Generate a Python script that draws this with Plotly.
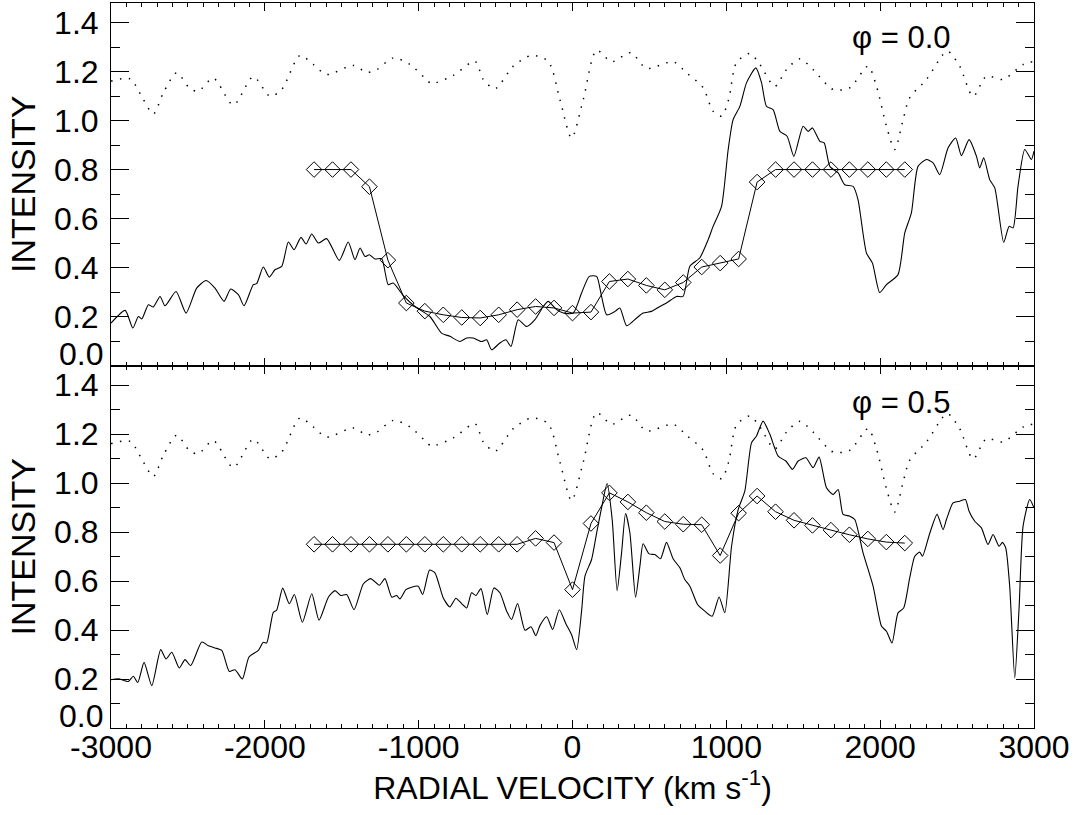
import plotly.graph_objects as go

# ---------------- data ----------------
# dotted template (same in both panels)
dot_v = [-3000, -2876, -2790, -2725, -2660, -2573, -2486, -2432, -2335, -2205, -2075, -1966,
         -1890, -1771, -1685, -1598, -1425, -1338, -1273, -1165, -1057, -927, -915, -775,
         -634, -580, -504, -385, -266, -158, -82, -6, 70, 157, 254, 379, 481, 654, 741,
         849, 914, 969, 1015, 1066, 1153, 1218, 1315, 1391, 1478, 1564, 1694, 1803, 1921,
         1976, 2041, 2095, 2149, 2192, 2301, 2409, 2441, 2517, 2604, 2691, 2799, 2929, 3000]
dot_i = [1.161, 1.170, 1.086, 1.027, 1.113, 1.195, 1.130, 1.120, 1.173, 1.064, 1.179, 1.099,
         1.127, 1.266, 1.229, 1.188, 1.225, 1.197, 1.208, 1.256, 1.229, 1.154, 1.150, 1.184,
         1.242, 1.168, 1.130, 1.222, 1.266, 1.242, 1.086, 0.929, 1.086, 1.287, 1.240, 1.277, 1.213, 1.240, 1.195,
         1.134, 1.038, 1.018, 1.086, 1.236, 1.274, 1.229, 1.140, 1.208, 1.252, 1.208, 1.127, 1.134, 1.222,
         1.140, 0.977, 0.882, 1.004, 1.093, 1.168, 1.270, 1.283, 1.222, 1.099, 1.181, 1.168, 1.229, 1.242]

# observed spectrum, phase 0.0
obs0_v = [-3000, -2908, -2858, -2822, -2800, -2757, -2725, -2681, -2649, -2577, -2512, -2443,
          -2382, -2324, -2265, -2222, -2172, -2135, -2075, -2053, -2010, -1971, -1934, -1890,
          -1847, -1810, -1765, -1732, -1695, -1652, -1598, -1516, -1458, -1414, -1381, -1349,
          -1321, -1284, -1240, -1198, -1165, -1100, -1024, -927, -851, -797, -732, -688, -645,
          -591, -558, -526, -472, -433, -400, -353, -298, -244, -190, -158, -103, -60, 5, 59,
          109, 157, 189, 222, 276, 308, 352, 417, 459, 514, 568, 611, 676, 719, 763, 828, 882,
          914, 969, 1012, 1044, 1088, 1131, 1192, 1229, 1261, 1304, 1348, 1395, 1439, 1499,
          1532, 1560, 1608, 1636, 1673, 1727, 1770, 1824, 1856, 1911, 1950, 1997, 2041, 2116,
          2160, 2203, 2246, 2301, 2344, 2387, 2441, 2491, 2528, 2578, 2626, 2647, 2673, 2712,
          2745, 2803, 2838, 2864, 2896, 2940, 2983, 3000]
obs0_i = [0.173, 0.225, 0.153, 0.200, 0.190, 0.248, 0.239, 0.282, 0.244, 0.302, 0.214, 0.316,
          0.347, 0.316, 0.262, 0.312, 0.289, 0.244, 0.330, 0.334, 0.402, 0.361, 0.391, 0.405,
          0.504, 0.473, 0.523, 0.496, 0.537, 0.500, 0.518, 0.429, 0.504, 0.432, 0.480, 0.445,
          0.452, 0.435, 0.436, 0.330, 0.337, 0.285, 0.241, 0.200, 0.132, 0.119, 0.098, 0.112, 0.112,
          0.098, 0.105, 0.064, 0.092, 0.105, 0.078, 0.187, 0.159, 0.187, 0.241, 0.262, 0.228, 0.214, 0.214, 0.296,
          0.364, 0.364, 0.282, 0.207, 0.221, 0.235, 0.162, 0.194, 0.214, 0.221, 0.241, 0.255, 0.282, 0.282, 0.405, 0.440, 0.514,
          0.568, 0.650, 0.882, 1.004, 1.058, 1.154, 1.215, 1.154, 1.058, 1.045, 0.956, 0.936, 0.854, 0.977,
          0.956, 0.970, 0.915, 0.909, 0.813, 0.786, 0.738, 0.731, 0.677, 0.459, 0.418, 0.298, 0.330, 0.371,
          0.541, 0.623, 0.813, 0.841, 0.827, 0.779, 0.888, 0.929, 0.857, 0.922, 0.854, 0.807, 0.848, 0.759,
          0.725, 0.503, 0.568, 0.562, 0.731, 0.882, 0.841, 0.875]

# observed spectrum, phase 0.5
obs5_v = [-3000, -2952, -2887, -2855, -2826, -2785, -2735, -2677, -2642, -2605, -2556, -2519,
          -2482, -2410, -2367, -2324, -2280, -2231, -2194, -2146, -2103, -2042, -2010, -1988,
          -1945, -1923, -1884, -1841, -1808, -1756, -1695, -1648, -1587, -1544, -1507, -1468,
          -1420, -1360, -1312, -1256, -1219, -1175, -1143, -1122, -1083, -1046, -1003, -974,
          -929, -894, -840, -797, -758, -721, -688, -656, -628, -595, -554, -511, -472, -428,
          -396, -357, -309, -270, -238, -212, -168, -129, -86, -43, -6, 27, 59, 81, 124, 157,
          189, 225, 258, 290, 319, 345, 373, 410, 438, 459, 498, 535, 572, 611, 654, 698, 730,
          763, 813, 860, 908, 953, 990, 1034, 1077, 1120, 1164, 1196, 1239, 1283, 1337, 1387,
          1430, 1467, 1517, 1564, 1603, 1651, 1694, 1727, 1759, 1803, 1835, 1889, 1954, 2009,
          2041, 2077, 2116, 2153, 2192, 2225, 2257, 2275, 2322, 2370, 2409, 2431, 2474, 2517,
          2554, 2578, 2615, 2658, 2701, 2734, 2773, 2795, 2816, 2842, 2875, 2903, 2929, 2972, 3000]
obs5_i = [0.197, 0.201, 0.190, 0.211, 0.186, 0.268, 0.173, 0.320, 0.282, 0.309, 0.245, 0.279,
          0.255, 0.351, 0.336, 0.327, 0.317, 0.231, 0.238, 0.200, 0.290, 0.317, 0.350, 0.347,
          0.472, 0.481, 0.571, 0.507, 0.545, 0.432, 0.548, 0.440, 0.534, 0.561, 0.541, 0.545,
          0.483, 0.588, 0.610, 0.583, 0.610, 0.534, 0.541, 0.527, 0.565, 0.575, 0.579, 0.545,
          0.645, 0.633, 0.531, 0.494, 0.530, 0.508, 0.490, 0.552, 0.541, 0.569, 0.463, 0.572, 0.552, 0.477,
          0.443, 0.508, 0.399, 0.413, 0.377, 0.418, 0.454, 0.402, 0.483, 0.426, 0.381, 0.320, 0.477, 0.620, 0.688, 0.797,
          0.899, 0.998, 0.851, 0.561, 0.715, 0.876, 0.797, 0.534, 0.660, 0.752, 0.711, 0.708, 0.691, 0.758, 0.691, 0.654, 0.606,
          0.579, 0.504, 0.477, 0.456, 0.535, 0.471, 0.742, 0.892, 0.967, 1.165, 1.192, 1.253, 1.199, 1.110, 1.090,
          1.056, 1.090, 1.103, 1.063, 1.106, 0.981, 0.953, 0.974, 0.872, 0.865, 0.851, 0.715, 0.579, 0.415,
          0.395, 0.347, 0.470, 0.490, 0.613, 0.701, 0.718, 0.701, 0.794, 0.872, 0.810, 0.851, 0.919, 0.926,
          0.933, 0.885, 0.844, 0.817, 0.749, 0.790, 0.742, 0.758, 0.736, 0.579, 0.204, 0.490, 0.824, 0.933, 0.899]

# model (diamonds)
mod_v = [-1680, -1560, -1440, -1320, -1200, -1080, -960, -840, -720, -600, -480, -360, -240,
         -120, 0, 120, 240, 360, 480, 600, 720, 840, 960, 1080, 1200, 1320, 1440, 1560, 1680,
         1800, 1920, 2040, 2160]
mod0_i = [0.80, 0.80, 0.80, 0.73, 0.43, 0.255, 0.222, 0.207, 0.196, 0.194, 0.207, 0.228, 0.241,
          0.235, 0.214, 0.218, 0.343, 0.353, 0.327, 0.309, 0.339, 0.402, 0.418, 0.435, 0.749,
          0.80, 0.80, 0.80, 0.80, 0.80, 0.80, 0.80, 0.80]
mod5_i = [0.75, 0.75, 0.75, 0.75, 0.75, 0.75, 0.75, 0.75, 0.75, 0.75, 0.75, 0.75, 0.774,
          0.757, 0.565, 0.835, 0.960, 0.923, 0.879, 0.843, 0.832, 0.830, 0.704, 0.877, 0.947,
          0.883, 0.848, 0.827, 0.808, 0.789, 0.772, 0.759, 0.755]

x_ticks = [-3000, -2000, -1000, 0, 1000, 2000, 3000]
x_ticktext = ["-3000", "-2000", "-1000", "0", "1000", "2000", "3000"]
y_ticks = [0.2, 0.4, 0.6, 0.8, 1.0, 1.2, 1.4]
phase_labels = ["\u03c6 = 0.0", "\u03c6 = 0.5"]

# ---------------- figure ----------------
FONT = "Liberation Sans, Arial, sans-serif"
TICKSIZE = 32
fig = go.Figure()

def add_panel(xa, ya, obs_v, obs_i, mod_i):
    fig.add_trace(go.Scatter(x=dot_v, y=dot_i, mode="lines", xaxis=xa, yaxis=ya,
                             line=dict(color="black", width=1.5, dash="1.5px,7.5px", shape="spline", smoothing=0.8),
                             showlegend=False, hoverinfo="skip"))
    fig.add_trace(go.Scatter(x=obs_v, y=obs_i, mode="lines", xaxis=xa, yaxis=ya,
                             line=dict(color="black", width=1.1, shape="spline", smoothing=0.6),
                             showlegend=False))
    fig.add_trace(go.Scatter(x=mod_v, y=mod_i, mode="lines+markers", xaxis=xa, yaxis=ya,
                             line=dict(color="black", width=1),
                             marker=dict(symbol="diamond-open", size=12, color="black",
                                         line=dict(width=1, color="black")),
                             showlegend=False))

add_panel("x2", "y2", obs0_v, obs0_i, mod0_i)
add_panel("x", "y", obs5_v, obs5_i, mod5_i)

xcommon = dict(range=[-3000, 3000], tickvals=x_ticks, ticktext=x_ticktext, ticks="inside", ticklen=8, tickwidth=1,
               tickcolor="black", showline=True, linecolor="black", linewidth=1, mirror="allticks",
               showgrid=False, zeroline=False,
               minor=dict(tickmode="linear", tick0=0, dtick=100, ticklen=4, ticks="inside",
                          tickcolor="black", showgrid=False))
ycommon = dict(range=[0, 1.48], tickvals=y_ticks, ticktext=[f"{v:.1f}" for v in y_ticks],
               ticks="inside", ticklen=18, tickwidth=1, tickcolor="black", showline=True,
               linecolor="black", linewidth=1, mirror="allticks", showgrid=False, zeroline=False,
               tickfont=dict(size=TICKSIZE, family=FONT, color="black"), ticklabelstandoff=5,
               minor=dict(tickmode="linear", tick0=0, dtick=0.1, ticklen=9, ticks="inside",
                          tickcolor="black", showgrid=False),
               title=dict(text="INTENSITY", font=dict(size=34, family=FONT, color="black"), standoff=8))

fig.update_layout(
    width=1074, height=815, autosize=False,
    margin=dict(l=111, r=40, t=3, b=87),
    plot_bgcolor="white", paper_bgcolor="white",
    font=dict(family=FONT, color="black"),
    xaxis=dict(**xcommon, anchor="y", domain=[0, 1],
               tickfont=dict(size=TICKSIZE, family=FONT, color="black"), ticklabelstandoff=-9,
               title=dict(text="RADIAL VELOCITY (km s<sup>-1</sup>)",
                          font=dict(size=32, family=FONT, color="black"), standoff=9)),
    xaxis2=dict(**xcommon, anchor="y2", matches="x", showticklabels=False, domain=[0, 1]),
    yaxis=dict(**ycommon, domain=[0, 0.5], anchor="x"),
    yaxis2=dict(**ycommon, domain=[0.5, 1], anchor="x2"),
)

annots = []
for yref in ["y", "y2"]:
    annots.append(dict(x=0, xref="paper", y=0, yref=yref, text="0.0", showarrow=False,
                       xanchor="right", yanchor="bottom", xshift=-6, yshift=-8,
                       font=dict(size=TICKSIZE, family=FONT, color="black")))
annots.append(dict(x=1803, xref="x2", y=1.34, yref="y2", text=phase_labels[0], showarrow=False,
                   xanchor="left", yanchor="middle", font=dict(size=31, family=FONT, color="black")))
annots.append(dict(x=1803, xref="x", y=1.33, yref="y", text=phase_labels[1], showarrow=False,
                   xanchor="left", yanchor="middle", font=dict(size=31, family=FONT, color="black")))
fig.update_layout(annotations=annots)

fig.write_html("out.html")
